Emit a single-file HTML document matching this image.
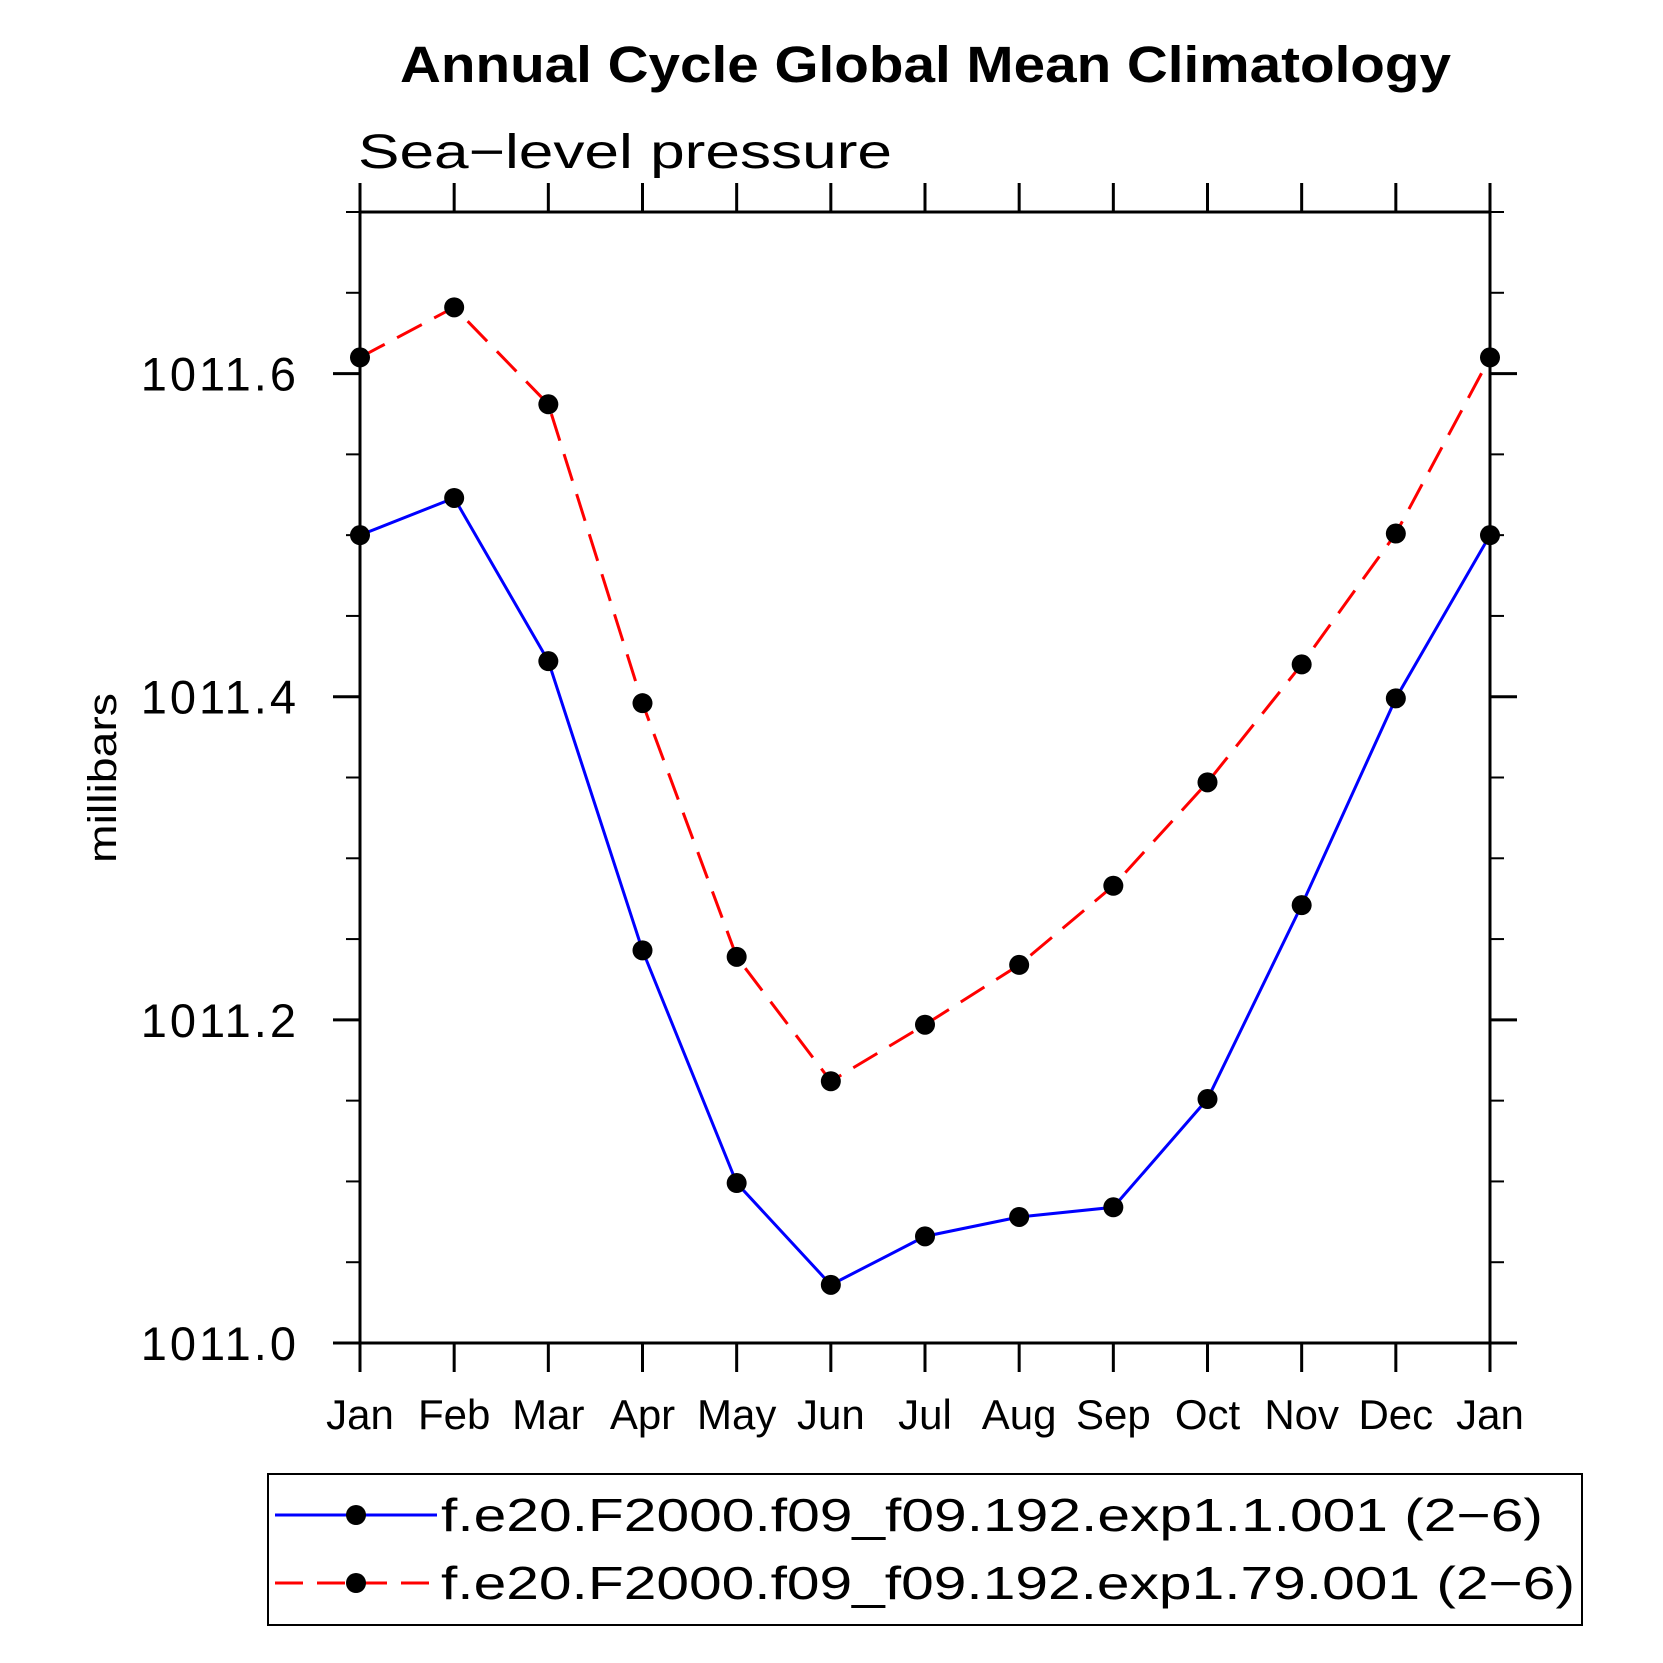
<!DOCTYPE html>
<html><head><meta charset="utf-8"><style>
html,body{margin:0;padding:0;background:#fff;}
svg{display:block;font-family:"Liberation Sans",sans-serif;}
</style></head><body>
<svg id="chart" width="1663" height="1663" viewBox="0 0 1663 1663">
<text x="400" y="82" font-size="51" font-weight="bold" textLength="1051" lengthAdjust="spacingAndGlyphs">Annual Cycle Global Mean Climatology</text>
<text x="358" y="168" font-size="48" font-weight="300" textLength="534" lengthAdjust="spacingAndGlyphs">Sea−level pressure</text>
<text transform="translate(116,778) rotate(-90)" text-anchor="middle" font-size="40" textLength="170" lengthAdjust="spacingAndGlyphs">millibars</text>
<g id="axes"></g>
<g id="series"></g>
<rect x="268" y="1474" width="1314" height="151" fill="none" stroke="#000" stroke-width="2"/>
<g>
<line x1="275" y1="1515" x2="437" y2="1515" stroke="#0000ff" stroke-width="3"/>
<circle cx="356" cy="1515" r="10"/>
<text x="441" y="1531" font-size="46" textLength="1102" lengthAdjust="spacingAndGlyphs">f.e20.F2000.f09_f09.192.exp1.1.001 (2−6)</text>
</g>
<g>
<line x1="275" y1="1583" x2="437" y2="1583" stroke="#ff0000" stroke-width="3" stroke-dasharray="28,14"/>
<circle cx="356" cy="1583" r="10"/>
<text x="441" y="1599" font-size="46" textLength="1134" lengthAdjust="spacingAndGlyphs">f.e20.F2000.f09_f09.192.exp1.79.001 (2−6)</text>
</g>
</svg>
<script>
const months = ["Jan","Feb","Mar","Apr","May","Jun","Jul","Aug","Sep","Oct","Nov","Dec","Jan"];
const seriesBlue = [1011.500,1011.523,1011.422,1011.243,1011.099,1011.036,1011.066,1011.078,1011.084,1011.151,1011.271,1011.399,1011.500];
const seriesRed = [1011.610,1011.641,1011.581,1011.396,1011.239,1011.162,1011.197,1011.234,1011.283,1011.347,1011.420,1011.501,1011.610];
const yTicks = [1011.0,1011.2,1011.4,1011.6];
const yTickLabels = ["1011.0","1011.2","1011.4","1011.6"];
const yMin = 1011.0, yMax = 1011.7;

const L=360,R=1490,T=212,B=1343;
const NS="http://www.w3.org/2000/svg";
function xs(i){return L+(R-L)*i/(months.length-1);}
function ys(v){return B-(B-T)*(v-yMin)/(yMax-yMin);}
function mk(tag,attrs,parent){const e=document.createElementNS(NS,tag);for(const k in attrs)e.setAttribute(k,attrs[k]);parent.appendChild(e);return e;}
const axes=document.getElementById('axes');
const frame=mk('rect',{x:L,y:T,width:R-L,height:B-T,fill:'none',stroke:'#000','stroke-width':3},axes);


// x ticks
months.forEach((m,i)=>{
  const x=xs(i);
  const t1=mk('line',{x1:x,y1:B,x2:x,y2:B+29,stroke:'#000','stroke-width':3},axes);
  
  
  const t2=mk('line',{x1:x,y1:T,x2:x,y2:T-29,stroke:'#000','stroke-width':3},axes);
  
  
  const lb=mk('text',{x:x,y:1429,'text-anchor':'middle','font-size':42},axes);
  lb.textContent=m;
  
  
});
// y minor ticks every 0.05
for(let k=0;k<=14;k++){
  const v=yMin+k*0.05, y=ys(v);
  const major=(k%4===0);
  const len=major?27:14;
  const a=mk('line',{x1:L-len,y1:y,x2:L,y2:y,stroke:'#000','stroke-width':major?3:2},axes);
  
  
  const b=mk('line',{x1:R,y1:y,x2:R+len,y2:y,stroke:'#000','stroke-width':major?3:2},axes);
  
  
}
yTicks.forEach((v,i)=>{
  const t=mk('text',{x:299,y:ys(v)+17,'text-anchor':'end','font-size':47,'letter-spacing':3},axes);
  t.textContent=yTickLabels[i];
  
  
});
const sg=document.getElementById('series');
function drawSeries(vals,color,dash,name){
  const pts=vals.map((v,i)=>xs(i)+','+ys(v)).join(' ');
  const pl=mk('polyline',{points:pts,fill:'none',stroke:color,'stroke-width':3,'stroke-dasharray':dash},sg);
  
  
  vals.forEach((v,i)=>{
    const c=mk('circle',{cx:xs(i),cy:ys(v),r:10,fill:'#000'},sg);
    
    
  });
}
drawSeries(seriesRed,'#ff0000','28,14','series-exp1-79');
drawSeries(seriesBlue,'#0000ff','none','series-exp1-1');
</script>
</body></html>
